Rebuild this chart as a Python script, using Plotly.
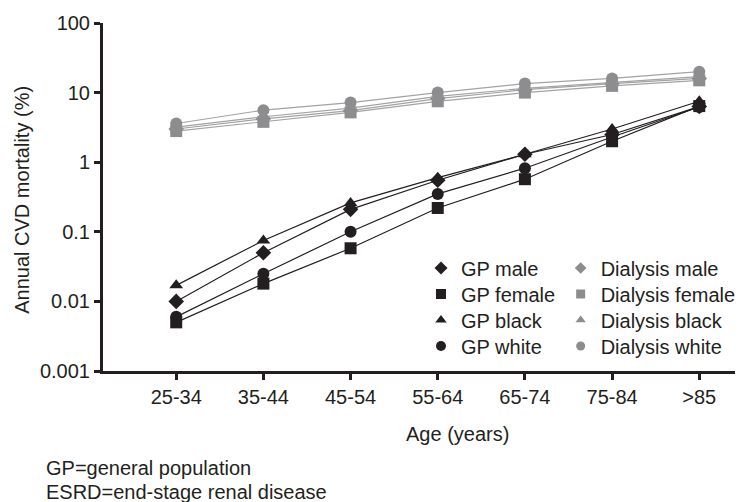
import plotly.graph_objects as go

ages = ["25-34", "35-44", "45-54", "55-64", "65-74", "75-84", ">85"]
y_tick_vals = [0.001, 0.01, 0.1, 1, 10, 100]
y_tick_text = ["0.001", "0.01", "0.1", "1", "10", "100"]

gp_male = [0.010, 0.050, 0.21, 0.55, 1.3, 2.5, 6.3]
gp_female = [0.005, 0.018, 0.058, 0.22, 0.57, 2.0, 6.4]
gp_black = [0.017, 0.075, 0.26, 0.60, 1.3, 3.0, 7.5]
gp_white = [0.006, 0.025, 0.10, 0.35, 0.82, 2.3, 6.2]

dial_male = [3.0, 4.2, 5.5, 8.2, 11.0, 13.5, 16.0]
dial_female = [2.8, 3.8, 5.2, 7.5, 10.0, 12.5, 15.0]
dial_black = [3.2, 4.5, 6.0, 8.8, 11.5, 14.0, 17.0]
dial_white = [3.6, 5.6, 7.2, 10.0, 13.5, 16.0, 20.0]

FONT = "Liberation Sans, Arial, sans-serif"
BLACK = "#231f20"
GREY_M = "#8d8d8f"
GREY_L = "#a3a3a5"
FS = 20

W, H = 741, 502
ML, MR, MT, MB = 103, 0, 23, 131
plot_w = W - ML - MR
plot_h = H - MT - MB

def px(xp):
    return (xp - ML) / plot_w

def py(yp):
    return (H - MB - yp) / plot_h

fig = go.Figure()

series = [
    ("GP male", gp_male, "diamond", BLACK, BLACK),
    ("GP female", gp_female, "square", BLACK, BLACK),
    ("GP black", gp_black, "triangle-up", BLACK, BLACK),
    ("GP white", gp_white, "circle", BLACK, BLACK),
    ("Dialysis male", dial_male, "diamond", GREY_M, GREY_L),
    ("Dialysis female", dial_female, "square", GREY_M, GREY_L),
    ("Dialysis black", dial_black, "triangle-up", GREY_M, GREY_L),
    ("Dialysis white", dial_white, "circle", GREY_M, GREY_L),
]

for name, vals, sym, mcol, lcol in series:
    fig.add_trace(go.Scatter(
        x=ages, y=vals, mode="lines+markers", name=name,
        line=dict(color=lcol, width=1.2),
        marker=dict(symbol=sym, size=12, color=mcol, line=dict(width=0)),
        showlegend=False,
    ))

# legend-only entries (markers without lines), one legend box per entry
row_y = [268, 294, 320, 346]
col_x = [424, 565]
legend_layout = {}
for i, (name, vals, sym, mcol, lcol) in enumerate(series):
    key = "legend" if i == 0 else f"legend{i + 1}"
    col, row = divmod(i, 4)
    fig.add_trace(go.Scatter(
        x=[None], y=[None], mode="markers", name=name,
        marker=dict(symbol=sym, size=10 if col == 0 else 9, color=mcol, line=dict(width=0)),
        showlegend=True, legend=key,
    ))
    legend_layout[key] = dict(
        x=px(col_x[col]), y=py(row_y[row]), xanchor="left", yanchor="middle",
        font=dict(size=FS, color=BLACK), bgcolor="rgba(0,0,0,0)",
        itemwidth=30, borderwidth=0,
    )

fig.update_layout(
    width=W, height=H,
    margin=dict(l=ML, r=MR, t=MT, b=MB),
    plot_bgcolor="white", paper_bgcolor="white",
    font=dict(family=FONT, size=FS, color=BLACK),
    **legend_layout,
)

fig.update_xaxes(
    type="category", range=[-0.84, 6.41],
    showline=True, linecolor=BLACK, linewidth=3,
    ticks="outside", ticklen=6, tickwidth=2.5, tickcolor=BLACK,
    showgrid=False, zeroline=False,
    tickfont=dict(size=FS, color=BLACK),
)
fig.update_yaxes(
    type="log", range=[-3, 2],
    tickvals=y_tick_vals, ticktext=y_tick_text,
    showline=True, linecolor=BLACK, linewidth=3,
    ticks="outside", ticklen=6, tickwidth=2.5, tickcolor=BLACK,
    showgrid=False, zeroline=False,
    tickfont=dict(size=FS, color=BLACK),
)

ann_font = dict(size=FS, color=BLACK)
fig.add_annotation(text="Annual CVD mortality (%)", x=px(21), y=py(200), xref="paper", yref="paper",
                   showarrow=False, textangle=-90, xanchor="center", yanchor="middle", font=ann_font)
fig.add_annotation(text="Age (years)", x=px(461), y=py(434), xref="paper", yref="paper",
                   showarrow=False, xanchor="center", yanchor="middle", font=ann_font)
fig.add_annotation(text="GP=general population", x=px(43), y=py(468), xref="paper", yref="paper",
                   showarrow=False, xanchor="left", yanchor="middle", font=ann_font)
fig.add_annotation(text="ESRD=end-stage renal disease", x=px(43), y=py(492), xref="paper", yref="paper",
                   showarrow=False, xanchor="left", yanchor="middle", font=ann_font)

fig.write_html("out.html", config={"displayModeBar": False},
               post_script="document.body.style.margin='0';document.body.style.overflow='hidden';")
